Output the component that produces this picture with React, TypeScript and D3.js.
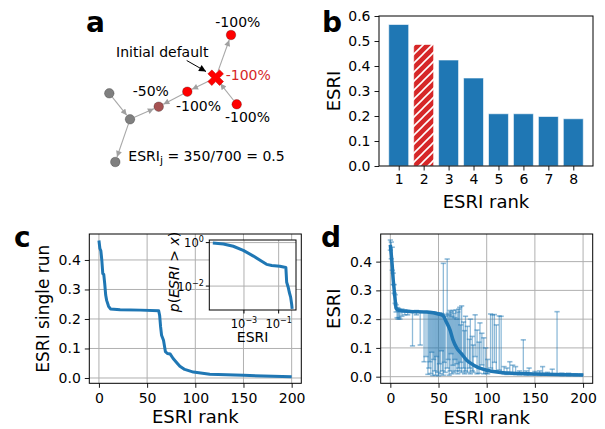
import React, { useEffect, useRef } from 'react';
import * as d3 from 'd3';

const FONT = 'DejaVu Sans, sans-serif';
const BLUE = '#1f77b4';
const RED = '#d62728';
const GRID = '#b0b0b0';

// ---- panel a: toy network (layout units) ----
const nodeX = [9.3, 30, 15.3, 58.7, 87.3, 115.7, 131, 136.7];
const nodeY = [73.3, 99.3, 142, 86.7, 71.7, 57.7, 15, 84.3];
const nodeState = ['ok', 'ok', 'ok', 'half', 'dead', 'seed', 'dead', 'dead'];
const edgeFrom = [0, 1, 1, 4, 5, 5, 7];
const edgeTo = [1, 2, 3, 3, 4, 6, 5];
const lossText = ['-100%', '-100%', '-50%', '-100%', '-100%'];
const lossX = [115.3, 125.7, 32.7, 76, 125];
const lossY = [7, 60, 75.7, 91, 101.7];
const lossColor = ['#000', RED, '#000', '#000', '#000'];

// ---- panel b: top ESRI values ----
const rankLabels = [1, 2, 3, 4, 5, 6, 7, 8];
const topEsri = [0.566, 0.486, 0.424, 0.352, 0.209, 0.209, 0.198, 0.189];
const highlighted = 2;

// ---- panel c: single run ----
const singleRank = [0, 1, 2, 3, 4, 5, 6, 7, 8, 10, 12, 22, 43, 62, 63, 64, 65, 67, 69, 71, 74, 77, 81, 84, 89, 98, 115, 150, 200];
const singleEsri = [0.466, 0.439, 0.431, 0.399, 0.354, 0.351, 0.32, 0.281, 0.263, 0.243, 0.234, 0.231, 0.23, 0.228, 0.212, 0.173, 0.145, 0.128, 0.089, 0.083, 0.081, 0.066, 0.051, 0.04, 0.029, 0.02, 0.013, 0.009, 0.004];

// inset: complementary cdf
const ccdfX = [1.6e-5, 6.5e-5, 2.4e-4, 9.1e-4, 3.5e-3, 0.0105, 0.02, 0.04, 0.117, 0.26, 0.29, 0.355, 0.41, 0.49, 0.56, 0.6];
const ccdfY = [0.95, 0.87, 0.68, 0.44, 0.24, 0.138, 0.1, 0.089, 0.081, 0.072, 0.015, 0.0089, 0.0052, 0.0031, 0.0015, 0.00089];

// ---- panel d: mean over runs with error bars ----
const meanRank = [0, 1, 2, 3, 4, 5, 6, 9, 20, 38, 50, 55, 58, 62, 65, 69, 74, 79, 86, 96, 117, 152, 200];
const meanEsri = [0.458, 0.423, 0.383, 0.336, 0.302, 0.267, 0.238, 0.23, 0.227, 0.225, 0.218, 0.211, 0.191, 0.162, 0.128, 0.099, 0.079, 0.058, 0.041, 0.026, 0.014, 0.0094, 0.006];
const errRank = [0, 1, 2, 3, 4, 5, 6, 7, 8, 9, 10, 12, 15, 18, 23, 27, 31, 35, 37, 39, 40, 41, 42, 43, 44, 45, 46, 47, 48, 49, 50, 51, 52, 53, 54, 55, 56, 57, 59, 60, 61, 62, 63, 64, 65, 66, 67, 68, 69, 70, 71, 72, 73, 74, 76, 77, 78, 80, 82, 83, 85, 86, 88, 90, 92, 93, 95, 97, 99, 101, 104, 106, 108, 110, 113, 115, 118, 121, 124, 127, 130, 134, 138, 141, 144, 150, 155, 158, 163, 168, 173, 178, 185, 192, 198];
const errLo = [0.44, 0.41, 0.37, 0.32, 0.29, 0.255, 0.225, 0.205, 0.2, 0.205, 0.2, 0.21, 0.215, 0.215, 0.107, 0.215, 0.11, 0.052, 0.07, 0.008, 0.03, 0.052, 0.011, 0.085, 0.004, 0.06, 0.02, 0.005, 0.07, 0.015, 0.003, 0.045, 0.01, 0.09, 0.02, 0.005, 0.05, 0.015, 0.03, 0.06, 0.005, 0.02, 0.08, 0.01, 0.04, 0.015, 0.06, 0.02, 0.045, 0.01, 0.03, 0.02, 0.05, 0.015, 0.03, 0.01, 0.02, 0.015, 0.03, 0.01, 0.02, 0.015, 0.07, 0.01, 0.012, 0.03, 0.041, 0.01, 0.012, 0.01, 0.03, 0.018, 0.05, 0.02, 0.023, 0.012, 0.01, 0.008, 0.01, 0.008, 0.008, 0.007, 0.008, 0.006, 0.006, 0.006, 0.005, 0.005, 0.005, 0.005, 0.005, 0.004, 0.004, 0.004, 0.004];
const errHi = [0.475, 0.468, 0.45, 0.36, 0.32, 0.285, 0.25, 0.24, 0.238, 0.235, 0.232, 0.235, 0.232, 0.23, 0.228, 0.23, 0.226, 0.226, 0.225, 0.225, 0.226, 0.224, 0.225, 0.224, 0.224, 0.223, 0.224, 0.222, 0.222, 0.22, 0.22, 0.222, 0.218, 0.22, 0.218, 0.394, 0.215, 0.21, 0.409, 0.22, 0.215, 0.23, 0.225, 0.21, 0.23, 0.22, 0.205, 0.232, 0.2, 0.225, 0.235, 0.241, 0.18, 0.246, 0.19, 0.16, 0.21, 0.175, 0.13, 0.2, 0.14, 0.11, 0.215, 0.162, 0.12, 0.187, 0.151, 0.135, 0.1, 0.06, 0.218, 0.215, 0.216, 0.18, 0.211, 0.21, 0.035, 0.03, 0.052, 0.04, 0.035, 0.02, 0.128, 0.02, 0.03, 0.018, 0.02, 0.035, 0.015, 0.026, 0.226, 0.012, 0.012, 0.01, 0.009];

type Sel = d3.Selection<SVGGElement, unknown, null, undefined>;

function styleAxis(g: Sel, size = 14) {
  g.select('.domain').remove();
  g.selectAll('.tick line').attr('stroke', '#000').attr('stroke-width', 0.9);
  g.selectAll('.tick text').attr('font-size', size).attr('font-family', FONT).attr('fill', '#000');
}

function label(g: Sel, text: string, x: number, y: number, size: number, rotate = false, anchor = 'middle') {
  const t = g.append('text')
    .attr('font-family', FONT)
    .attr('font-size', size)
    .attr('text-anchor', anchor)
    .text(text);
  if (rotate) t.attr('transform', `translate(${x},${y}) rotate(-90)`);
  else t.attr('x', x).attr('y', y);
  return t;
}

export default function App() {
  const ref = useRef<SVGSVGElement>(null);

  useEffect(() => {
    const svg = d3.select(ref.current);
    svg.selectAll('*').remove();
    const root = svg.append('g') as unknown as Sel;
    const defs = svg.append('defs');

    defs.append('marker').attr('id', 'arrGray')
      .attr('viewBox', '0 0 10 10').attr('refX', 10).attr('refY', 5)
      .attr('markerWidth', 7).attr('markerHeight', 6)
      .attr('markerUnits', 'userSpaceOnUse').attr('orient', 'auto')
      .append('path').attr('d', 'M0,0L10,5L0,10z').attr('fill', '#a0a0a0');
    defs.append('marker').attr('id', 'arrBlack')
      .attr('viewBox', '0 0 10 10').attr('refX', 10).attr('refY', 5)
      .attr('markerWidth', 8).attr('markerHeight', 7)
      .attr('markerUnits', 'userSpaceOnUse').attr('orient', 'auto')
      .append('path').attr('d', 'M0,0L10,5L0,10z').attr('fill', '#000');
    const pat = defs.append('pattern').attr('id', 'hatch')
      .attr('patternUnits', 'userSpaceOnUse').attr('width', 9).attr('height', 9);
    pat.append('rect').attr('width', 9).attr('height', 9).attr('fill', RED);
    pat.append('path').attr('d', 'M-2,2L2,-2M0,9L9,0M7,11L11,7')
      .attr('stroke', '#fff').attr('stroke-width', 1.6);

    // ================= panel a =================
    const ax = d3.scaleLinear().domain([0, 100]).range([100, 200]);
    const ay = d3.scaleLinear().domain([0, 100]).range([20, 120]);
    const ga = root.append('g');
    const nodeR = 4.8;
    edgeFrom.forEach((s, i) => {
      const t = edgeTo[i];
      const x1 = ax(nodeX[s]), y1 = ay(nodeY[s]);
      const x2 = ax(nodeX[t]), y2 = ay(nodeY[t]);
      const len = Math.hypot(x2 - x1, y2 - y1);
      const ux = (x2 - x1) / len, uy = (y2 - y1) / len;
      const r1 = nodeState[s] === 'seed' ? 7 : nodeR;
      const r2 = nodeState[t] === 'seed' ? 7.5 : nodeR + 0.5;
      ga.append('line')
        .attr('x1', x1 + ux * r1).attr('y1', y1 + uy * r1)
        .attr('x2', x2 - ux * r2).attr('y2', y2 - uy * r2)
        .attr('stroke', '#a8a8a8').attr('stroke-width', 1.1)
        .attr('marker-end', 'url(#arrGray)');
    });
    const fillFor: Record<string, string> = { ok: '#7f7f7f', half: '#a65252', dead: '#ff0000' };
    nodeX.forEach((nx, i) => {
      const st = nodeState[i];
      if (st === 'seed') {
        ga.append('path')
          .attr('d', d3.symbol(d3.symbolCross, 150)())
          .attr('transform', `translate(${ax(nx)},${ay(nodeY[i])}) rotate(45)`)
          .attr('fill', '#ff0000').attr('stroke', '#cc0000').attr('stroke-width', 0.6);
      } else {
        ga.append('circle').attr('cx', ax(nx)).attr('cy', ay(nodeY[i])).attr('r', nodeR)
          .attr('fill', fillFor[st]).attr('stroke', 'rgba(0,0,0,0.35)').attr('stroke-width', 0.7);
      }
    });
    lossText.forEach((t, i) => {
      label(ga, t, ax(lossX[i]), ay(lossY[i]), 14, false, 'start').attr('fill', lossColor[i]);
    });
    label(ga, 'Initial default', ax(16), ay(37), 14, false, 'start');
    ga.append('line')
      .attr('x1', ax(86.7)).attr('y1', ay(40.5))
      .attr('x2', ax(106)).attr('y2', ay(51.5))
      .attr('stroke', '#000').attr('stroke-width', 1)
      .attr('marker-end', 'url(#arrBlack)');
    const esriT = label(ga, 'ESRI', ax(28.3), ay(140.7), 14, false, 'start');
    esriT.append('tspan').attr('font-size', 11).attr('dy', 3).text('j');
    esriT.append('tspan').attr('dy', -3).text(' = 350/700 = 0.5');

    // ================= panel b =================
    const bL = 379, bR = 593, bT = 16, bB = 166;
    const bx = d3.scaleLinear().domain([0.21, 8.79]).range([bL, bR]);
    const by = d3.scaleLinear().domain([0, 0.6]).range([bB, bT]);
    const gb = root.append('g');
    gb.selectAll('rect.bar').data(topEsri).join('rect')
      .attr('x', (_, i) => bx(rankLabels[i] - 0.4))
      .attr('width', bx(0.8) - bx(0))
      .attr('y', d => by(d))
      .attr('height', d => by(0) - by(d))
      .attr('fill', (_, i) => (rankLabels[i] === highlighted ? 'url(#hatch)' : BLUE))
      .attr('stroke', '#fff').attr('stroke-opacity', 0.6).attr('stroke-width', 1);
    gb.append('rect').attr('x', bL).attr('y', bT).attr('width', bR - bL).attr('height', bB - bT)
      .attr('fill', 'none').attr('stroke', '#000').attr('stroke-width', 1);
    const bxa = gb.append('g').attr('transform', `translate(0,${bB})`)
      .call(d3.axisBottom(bx).tickValues(rankLabels).tickFormat(d3.format('d')).tickSize(4.5).tickPadding(3.5).tickSizeOuter(0));
    styleAxis(bxa as unknown as Sel);
    const bya = gb.append('g').attr('transform', `translate(${bL},0)`)
      .call(d3.axisLeft(by).tickValues(d3.range(0, 0.61, 0.1)).tickFormat(d3.format('.1f')).tickSize(4.5).tickPadding(4).tickSizeOuter(0));
    styleAxis(bya as unknown as Sel);
    label(gb, 'ESRI rank', (bL + bR) / 2, 208, 18);
    label(gb, 'ESRI', 340, (bT + bB) / 2, 18, true);

    // ================= panel c =================
    const cL = 89.3, cR = 301.3, cT = 234, cB = 383.3;
    const cx = d3.scaleLinear().domain([-10, 210]).range([cL, cR]);
    const cy = d3.scaleLinear().domain([-0.018, 0.488]).range([cB, cT]);
    const gc = root.append('g');
    const rankTicks = [0, 50, 100, 150, 200];
    const yTicks = [0, 0.1, 0.2, 0.3, 0.4];
    const grid = (g: Sel, x: d3.ScaleLinear<number, number>, y: d3.ScaleLinear<number, number>, L: number, R: number, T: number, B: number) => {
      g.selectAll('line.gx').data(rankTicks).join('line').attr('class', 'gx')
        .attr('x1', d => x(d)).attr('x2', d => x(d)).attr('y1', T).attr('y2', B)
        .attr('stroke', GRID).attr('stroke-width', 1);
      g.selectAll('line.gy').data(yTicks).join('line').attr('class', 'gy')
        .attr('y1', d => y(d)).attr('y2', d => y(d)).attr('x1', L).attr('x2', R)
        .attr('stroke', GRID).attr('stroke-width', 1);
    };
    grid(gc, cx, cy, cL, cR, cT, cB);
    const cLine = d3.line<number>().x((_, i) => cx(singleRank[i])).y(d => cy(d));
    gc.append('path').datum(singleEsri).attr('d', cLine)
      .attr('fill', 'none').attr('stroke', BLUE).attr('stroke-width', 3).attr('stroke-linejoin', 'round');
    gc.append('rect').attr('x', cL).attr('y', cT).attr('width', cR - cL).attr('height', cB - cT)
      .attr('fill', 'none').attr('stroke', '#000').attr('stroke-width', 1);
    const cxa = gc.append('g').attr('transform', `translate(0,${cB})`)
      .call(d3.axisBottom(cx).tickValues(rankTicks).tickSize(4.5).tickPadding(5).tickSizeOuter(0));
    styleAxis(cxa as unknown as Sel);
    const cya = gc.append('g').attr('transform', `translate(${cL},0)`)
      .call(d3.axisLeft(cy).tickValues(yTicks).tickFormat(d3.format('.1f')).tickSize(4.5).tickPadding(4).tickSizeOuter(0));
    styleAxis(cya as unknown as Sel);
    label(gc, 'ESRI rank', (cL + cR) / 2, 423.3, 18);
    label(gc, 'ESRI single run', 48.5, (cT + cB) / 2, 17, true);

    // inset
    const iL = 209.3, iR = 296, iT = 240, iB = 310;
    const ix = d3.scaleLog().domain([1e-5, 1]).range([iL, iR]);
    const iy = d3.scaleLog().domain([Math.pow(10, -3.1), Math.pow(10, 0.12)]).range([iB, iT]);
    const gi = root.append('g');
    gi.append('rect').attr('x', iL).attr('y', iT).attr('width', iR - iL).attr('height', iB - iT).attr('fill', '#fff');
    const ixTicks = [1e-3, 1e-1];
    const iyTicks = [1, 1e-2];
    gi.selectAll('line.gx').data(ixTicks).join('line').attr('class', 'gx')
      .attr('x1', d => ix(d)).attr('x2', d => ix(d)).attr('y1', iT).attr('y2', iB)
      .attr('stroke', GRID).attr('stroke-width', 1);
    gi.selectAll('line.gy').data(iyTicks).join('line').attr('class', 'gy')
      .attr('y1', d => iy(d)).attr('y2', d => iy(d)).attr('x1', iL).attr('x2', iR)
      .attr('stroke', GRID).attr('stroke-width', 1);
    const iLine = d3.line<number>().x((_, i) => ix(ccdfX[i])).y(d => iy(d));
    gi.append('path').datum(ccdfY).attr('d', iLine)
      .attr('fill', 'none').attr('stroke', BLUE).attr('stroke-width', 3).attr('stroke-linejoin', 'round');
    gi.append('rect').attr('x', iL).attr('y', iT).attr('width', iR - iL).attr('height', iB - iT)
      .attr('fill', 'none').attr('stroke', '#000').attr('stroke-width', 1);
    ixTicks.forEach(v => {
      gi.append('line').attr('x1', ix(v)).attr('x2', ix(v)).attr('y1', iB).attr('y2', iB + 3.5).attr('stroke', '#000');
      const t = label(gi, '10', ix(v), 327.5, 11.5);
      t.append('tspan').attr('dy', -5).attr('font-size', 8).text('\u2212' + Math.round(-Math.log10(v)));
    });
    iyTicks.forEach(v => {
      gi.append('line').attr('x1', iL - 3.5).attr('x2', iL).attr('y1', iy(v)).attr('y2', iy(v)).attr('stroke', '#000');
      const e = Math.round(Math.log10(v));
      const t = label(gi, '10', iL - 5.5, iy(v) + 4.5, 11.5, false, 'end');
      t.append('tspan').attr('dy', -5).attr('font-size', 8).text(e === 0 ? '0' : '\u2212' + -e);
    });
    label(gi, 'ESRI', (iL + iR) / 2, 341.5, 14);
    const pl = label(gi, '', 179, 272, 14, true);
    pl.append('tspan').attr('font-style', 'italic').text('p');
    pl.append('tspan').text('(');
    pl.append('tspan').attr('font-style', 'italic').text('ESRI');
    pl.append('tspan').text(' > ');
    pl.append('tspan').attr('font-style', 'italic').text('x');
    pl.append('tspan').text(')');

    // ================= panel d =================
    const dL = 380.7, dR = 592.7, dT = 234, dB = 383.3;
    const dx = d3.scaleLinear().domain([-10, 210]).range([dL, dR]);
    const dy = d3.scaleLinear().domain([-0.023, 0.496]).range([dB, dT]);
    const gd = root.append('g');
    grid(gd, dx, dy, dL, dR, dT, dB);
    const gErr = gd.append('g').attr('stroke', BLUE).attr('stroke-opacity', 0.5).attr('stroke-width', 1.3);
    errRank.forEach((r, i) => {
      const x = dx(r);
      gErr.append('line').attr('x1', x).attr('x2', x).attr('y1', dy(errLo[i])).attr('y2', dy(errHi[i]));
      gErr.append('line').attr('x1', x - 2.6).attr('x2', x + 2.6).attr('y1', dy(errLo[i])).attr('y2', dy(errLo[i])).attr('stroke-width', 1.6);
      gErr.append('line').attr('x1', x - 2.6).attr('x2', x + 2.6).attr('y1', dy(errHi[i])).attr('y2', dy(errHi[i])).attr('stroke-width', 1.6);
    });
    const dLine = d3.line<number>().x((_, i) => dx(meanRank[i])).y(d => dy(d)).curve(d3.curveMonotoneX);
    gd.append('path').datum(meanEsri).attr('d', dLine)
      .attr('fill', 'none').attr('stroke', BLUE).attr('stroke-width', 3.5).attr('stroke-linejoin', 'round');
    gd.append('rect').attr('x', dL).attr('y', dT).attr('width', dR - dL).attr('height', dB - dT)
      .attr('fill', 'none').attr('stroke', '#000').attr('stroke-width', 1);
    const dxa = gd.append('g').attr('transform', `translate(0,${dB})`)
      .call(d3.axisBottom(dx).tickValues(rankTicks).tickSize(4.5).tickPadding(5).tickSizeOuter(0));
    styleAxis(dxa as unknown as Sel);
    const dya = gd.append('g').attr('transform', `translate(${dL},0)`)
      .call(d3.axisLeft(dy).tickValues(yTicks).tickFormat(d3.format('.1f')).tickSize(4.5).tickPadding(4).tickSizeOuter(0));
    styleAxis(dya as unknown as Sel);
    label(gd, 'ESRI rank', (dL + dR) / 2, 424, 18);
    label(gd, 'ESRI', 340, (dT + dB) / 2, 18, true);

    // panel letters
    [['a', 86, 32], ['b', 322, 32], ['c', 14, 247], ['d', 321, 247]].forEach(([t, x, y]) => {
      label(root, t as string, x as number, y as number, 28, false, 'start').attr('font-weight', 'bold');
    });
  }, []);

  return (
    <svg
      ref={ref}
      width={605}
      height={429}
      style={{ position: 'absolute', left: 0, top: 0, background: '#fff' }}
    />
  );
}
